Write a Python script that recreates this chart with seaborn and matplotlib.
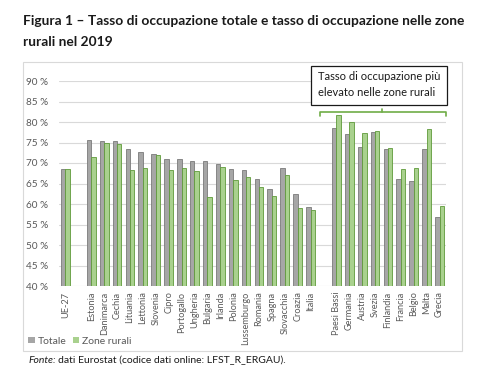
import matplotlib
matplotlib.use("Agg")
import matplotlib.pyplot as plt
import matplotlib.patches as mpatches
from matplotlib.lines import Line2D
import seaborn as sns
import pandas as pd

# ---- data ----
group_eu = ["UE-27"]
group_a = ["Estonia", "Danimarca", "Cechia", "Lituania", "Lettonia", "Slovenia", "Cipro",
           "Portogallo", "Ungheria", "Bulgaria", "Irlanda", "Polonia", "Lussemburgo",
           "Romania", "Spagna", "Slovacchia", "Croazia", "Italia"]
group_b = ["Paesi Bassi", "Germania", "Austria", "Svezia", "Finlandia", "Francia",
           "Belgio", "Malta", "Grecia"]

totale_eu = [68.5]
rurali_eu = [68.5]
totale_a = [75.6, 75.3, 75.3, 73.3, 72.6, 72.1, 70.9, 70.9, 70.5, 70.5, 69.8, 68.6,
            68.3, 66.2, 63.6, 68.7, 62.4, 59.3]
rurali_a = [71.5, 74.9, 74.6, 68.3, 68.7, 72.0, 68.4, 68.7, 68.0, 61.7, 69.0, 65.8,
            66.6, 64.2, 61.9, 67.0, 59.1, 58.5]
totale_b = [78.6, 77.1, 74.0, 77.5, 73.3, 66.0, 65.7, 73.5, 56.9]
rurali_b = [81.7, 80.1, 77.3, 77.7, 73.6, 68.5, 68.9, 78.4, 59.5]

series = ["Totale", "Zone rurali"]
yticks = [40, 45, 50, 55, 60, 65, 70, 75, 80, 85, 90]

countries = group_eu + group_a + group_b
tot = totale_eu + totale_a + totale_b
rur = rurali_eu + rurali_a + rurali_b
df = pd.DataFrame({
    "paese": countries * 2,
    "serie": [series[0]] * len(countries) + [series[1]] * len(countries),
    "val": tot + rur,
})
order = group_eu + [" "] + group_a + ["  "] + group_b

# ---- figure ----
W, H = 490, 375
fig = plt.figure(figsize=(W / 100, H / 100), dpi=100)
sns.set_style("white")
plt.rcParams["font.family"] = ["Lato", "DejaVu Sans"]

def fx(x):
    return x / W

def fy(y):
    return 1 - y / H

ax = fig.add_axes([fx(59), fy(286), fx(446) - fx(59), fy(81) - fy(286)])

gray = "#a6a6a6"
green = "#a9d18e"
sns.barplot(data=df, x="paese", y="val", hue="serie", order=order, hue_order=series,
            palette=[gray, green], width=0.68, dodge=True, ax=ax, legend=False,
            saturation=1)
edge = {0: "#7a7a7a", 1: "#5f9a3a"}
for i, cont in enumerate(ax.containers):
    for p in cont.patches:
        p.set_edgecolor(edge[i])
        p.set_linewidth(0.6)

ax.set_ylim(40, 90)
ax.set_yticks(yticks)
ax.set_yticklabels([f"{v} %" for v in yticks])
ax.set_xlim(-0.5, len(order) - 0.5)
ax.yaxis.grid(True, color="#d9d9d9", linewidth=0.8)
ax.set_axisbelow(True)
for s in ax.spines.values():
    s.set_visible(False)
ax.set_xlabel("")
ax.set_ylabel("")
ax.tick_params(axis="y", length=0, labelsize=7.2, labelcolor="#595959", pad=8)
ax.tick_params(axis="x", length=0, labelsize=6.6, labelcolor="#595959", rotation=90, pad=4)

# ---- outer chart frame ----
fig.patches.append(mpatches.Rectangle((fx(23), fy(351)), fx(462) - fx(23), fy(62) - fy(351),
                                      transform=fig.transFigure, fill=False,
                                      edgecolor="#d9d9d9", linewidth=0.8))

# ---- title ----
fig.text(fx(23), fy(21), "Figura 1 – Tasso di occupazione totale e tasso di occupazione nelle zone",
         fontsize=9.9, fontweight="bold", va="center", ha="left", color="#1a1a1a")
fig.text(fx(23), fy(42), "rurali nel 2019",
         fontsize=9.9, fontweight="bold", va="center", ha="left", color="#1a1a1a")

# ---- annotation box and bracket ----
fig.patches.append(mpatches.Rectangle((fx(311), fy(105)), fx(447) - fx(311), fy(66) - fy(105),
                                      transform=fig.transFigure, fill=True, facecolor="white",
                                      edgecolor="#1a1a1a", linewidth=0.9))
fig.text(fx(318), fy(77), "Tasso di occupazione più", fontsize=8, va="center", ha="left",
         color="#1a1a1a")
fig.text(fx(318), fy(92), "elevato nelle zone rurali", fontsize=8, va="center", ha="left",
         color="#1a1a1a")
bc = "#70ad47"
fig.add_artist(Line2D([fx(320), fx(320), fx(446), fx(446)], [fy(116), fy(112), fy(112), fy(116)],
                      transform=fig.transFigure, color=bc, linewidth=1.2))
fig.add_artist(Line2D([fx(382), fx(382)], [fy(112), fy(109)],
                      transform=fig.transFigure, color=bc, linewidth=1.2))

# ---- legend ----
handles = [mpatches.Patch(facecolor=gray, edgecolor="none"),
           mpatches.Patch(facecolor=green, edgecolor="none")]
fig.legend(handles, series, loc="center left", bbox_to_anchor=(fx(19), fy(341)), ncol=2,
           frameon=False, handlelength=0.6, handleheight=0.6, fontsize=7.5,
           handletextpad=0.3, columnspacing=0.6, labelcolor="#595959")

# ---- source ----
t1 = fig.text(fx(28), fy(363), "Fonte:", fontsize=7.5, style="italic", va="baseline",
              ha="left", color="#1a1a1a")
fig.canvas.draw()
bb = t1.get_window_extent()
fig.text(bb.x1 / W + fx(2.5), fy(363), "dati Eurostat (codice dati online: LFST_R_ERGAU).",
         fontsize=7.5, va="baseline", ha="left", color="#1a1a1a")

fig.savefig("out.png", dpi=100)
